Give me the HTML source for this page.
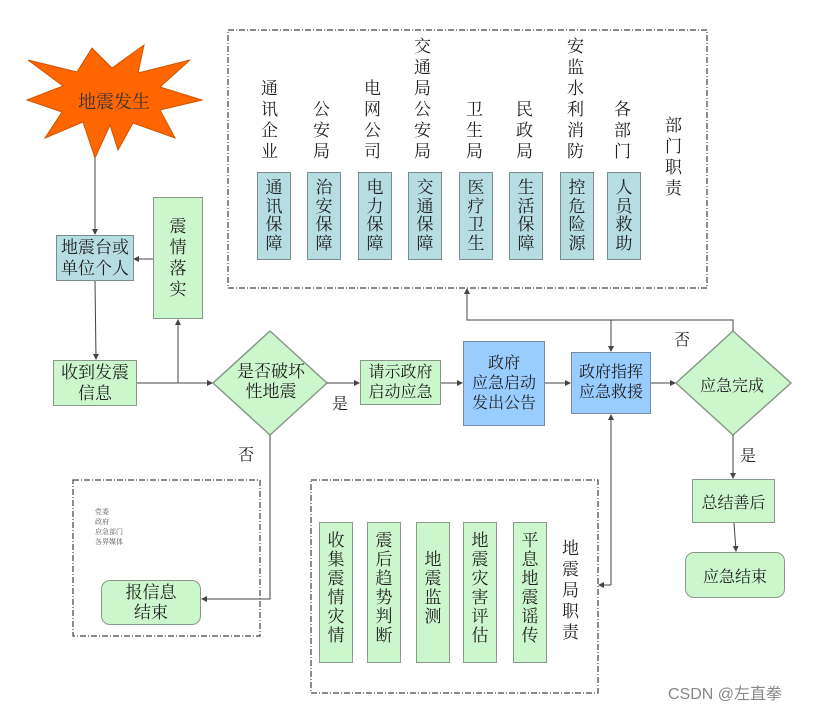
<!DOCTYPE html>
<html><head><meta charset="utf-8"><style>
body{margin:0;background:#fff;}
#c{position:relative;width:815px;height:710px;overflow:hidden;font-family:"Liberation Serif","Noto Serif CJK SC",serif;color:#222;}
.a{position:absolute;}
.box{position:absolute;box-sizing:border-box;display:flex;align-items:center;justify-content:center;text-align:center;}
.g{background:#ccf7cc;border:1.5px solid #8a9a8a;}
.b{background:#b6dde2;border:1.5px solid #7b8c8e;}
.bb{background:#99ccff;border:1.5px solid #7a8aa0;}
.vb{flex-direction:column;justify-content:flex-start;padding-top:6px;font-size:17px;line-height:18.5px;}
.lab{font-size:17px;line-height:21px;}
</style></head><body><div id="c">
<svg class="a" style="left:0;top:0" width="815" height="710">
<defs><marker id="ar" markerWidth="6" markerHeight="6" refX="5" refY="3" orient="auto"><path d="M0,0L6,3L0,6z" fill="#444"/></marker></defs>
<g fill="none" stroke="#444" stroke-width="1.2" stroke-dasharray="6,2,1,2">
<rect x="228" y="30" width="479" height="258"/>
<rect x="311" y="480" width="287" height="213"/>
<rect x="73" y="480" width="187" height="156"/>
</g>
<polygon points="95,158 83,122 45,138 62,112 27,100 63,86 28,60 77,72 92,48 112,68 144,45 138,73 190,60 160,87 202,100 160,110 175,138 133,123 118,150 110,125" fill="#ff6600" stroke="#cc5500"/>
<polygon points="270,331 327,383 270,435 213,383" fill="#ccf7cc" stroke="#8a9a8a" stroke-width="1.5"/>
<polygon points="733,331 791,383 733,435 676,383" fill="#ccf7cc" stroke="#8a9a8a" stroke-width="1.5"/>
<g stroke="#444" stroke-width="1" fill="none">
<line x1="95" y1="158" x2="95" y2="234" marker-end="url(#ar)"/>
<line x1="95" y1="281" x2="96" y2="359" marker-end="url(#ar)"/>
<line x1="153" y1="259" x2="134" y2="259" marker-end="url(#ar)"/>
<line x1="137" y1="383" x2="212" y2="383" marker-end="url(#ar)"/>
<line x1="178" y1="383" x2="178" y2="320" marker-end="url(#ar)"/>
<line x1="327" y1="383" x2="359" y2="383" marker-end="url(#ar)"/>
<polyline points="270,435 270,599 202,599" marker-end="url(#ar)"/>
<line x1="441" y1="383" x2="462" y2="383" marker-end="url(#ar)"/>
<line x1="545" y1="383" x2="570" y2="383" marker-end="url(#ar)"/>
<line x1="651" y1="383" x2="675" y2="383" marker-end="url(#ar)"/>
<polyline points="733,331 733,320 467,320 467,289" marker-end="url(#ar)"/>
<line x1="611" y1="320" x2="611" y2="351" marker-end="url(#ar)"/>
<line x1="733" y1="435" x2="733" y2="478" marker-end="url(#ar)"/>
<line x1="734" y1="523" x2="736" y2="551" marker-end="url(#ar)"/>
<polyline points="611,585 611,415" marker-end="url(#ar)"/>
<line x1="611" y1="585" x2="599" y2="585" marker-end="url(#ar)"/>
</g>
</svg>
<div class="a" style="left:78px;top:88px;font-size:18px;color:#333">地震发生</div>
<div class="box b" style="left:56px;top:235px;width:78px;height:46px;font-size:17px;line-height:21px">地震台或<br>单位个人</div>
<div class="box g vb" style="left:153px;top:197px;width:50px;height:122px;padding-top:18px;line-height:21px">震<br>情<br>落<br>实</div>
<div class="box g" style="left:53px;top:360px;width:84px;height:46px;font-size:17px;line-height:21px">收到发震<br>信息</div>
<div class="a" style="left:232px;top:362px;width:78px;text-align:center;font-size:17px;line-height:20px">是否破坏<br>性地震</div>
<div class="a" style="left:332px;top:391px;font-size:16px">是</div>
<div class="a" style="left:238px;top:442px;font-size:16px">否</div>
<div class="box g" style="left:360px;top:360px;width:81px;height:45px;font-size:16px;line-height:20px">请示政府<br>启动应急</div>
<div class="box bb" style="left:463px;top:341px;width:82px;height:85px;font-size:16px;line-height:20px">政府<br>应急启动<br>发出公告</div>
<div class="box bb" style="left:571px;top:352px;width:80px;height:62px;font-size:16px;line-height:20px">政府指挥<br>应急救援</div>
<div class="a" style="left:700px;top:373px;font-size:16px">应急完成</div>
<div class="a" style="left:674px;top:327px;font-size:16px">否</div>
<div class="a" style="left:740px;top:443px;font-size:16px">是</div>
<div class="box g" style="left:692px;top:479px;width:83px;height:44px;font-size:16px">总结善后</div>
<div class="box g" style="left:685px;top:552px;width:100px;height:46px;border-radius:9px;font-size:16px">应急结束</div>
<div class="a" style="left:95px;top:507px;font-size:7px;line-height:10px;color:#555">党委<br>政府<br>应急部门<br>各界媒体</div>
<div class="box g" style="left:101px;top:580px;width:100px;height:45px;border-radius:9px;font-size:17px;line-height:20px">报信息<br>结束</div>
<div class="a lab" style="left:261px;top:78px;width:20px">通<br>讯<br>企<br>业</div>
<div class="a lab" style="left:313px;top:99px;width:20px">公<br>安<br>局</div>
<div class="a lab" style="left:364px;top:78px;width:20px">电<br>网<br>公<br>司</div>
<div class="a lab" style="left:414px;top:36px;width:20px">交<br>通<br>局<br>公<br>安<br>局</div>
<div class="a lab" style="left:466px;top:99px;width:20px">卫<br>生<br>局</div>
<div class="a lab" style="left:516px;top:99px;width:20px">民<br>政<br>局</div>
<div class="a lab" style="left:567px;top:36px;width:20px">安<br>监<br>水<br>利<br>消<br>防</div>
<div class="a lab" style="left:614px;top:99px;width:20px">各<br>部<br>门</div>
<div class="a lab" style="left:665px;top:115px;width:20px">部<br>门<br>职<br>责</div>
<div class="box b vb" style="left:257px;top:172px;width:34px;height:88px">通<br>讯<br>保<br>障</div>
<div class="box b vb" style="left:307px;top:172px;width:34px;height:88px">治<br>安<br>保<br>障</div>
<div class="box b vb" style="left:358px;top:172px;width:34px;height:88px">电<br>力<br>保<br>障</div>
<div class="box b vb" style="left:408px;top:172px;width:34px;height:88px">交<br>通<br>保<br>障</div>
<div class="box b vb" style="left:459px;top:172px;width:34px;height:88px">医<br>疗<br>卫<br>生</div>
<div class="box b vb" style="left:509px;top:172px;width:34px;height:88px">生<br>活<br>保<br>障</div>
<div class="box b vb" style="left:560px;top:172px;width:34px;height:88px">控<br>危<br>险<br>源</div>
<div class="box b vb" style="left:607px;top:172px;width:34px;height:88px">人<br>员<br>救<br>助</div>
<div class="box g vb" style="left:319px;top:522px;width:34px;height:141px;padding-top:8px;line-height:19px">收<br>集<br>震<br>情<br>灾<br>情</div>
<div class="box g vb" style="left:367px;top:522px;width:34px;height:141px;padding-top:8px;line-height:19px">震<br>后<br>趋<br>势<br>判<br>断</div>
<div class="box g vb" style="left:416px;top:522px;width:34px;height:141px;padding-top:27px;line-height:19px">地<br>震<br>监<br>测</div>
<div class="box g vb" style="left:463px;top:522px;width:34px;height:141px;padding-top:8px;line-height:19px">地<br>震<br>灾<br>害<br>评<br>估</div>
<div class="box g vb" style="left:513px;top:522px;width:34px;height:141px;padding-top:8px;line-height:19px">平<br>息<br>地<br>震<br>谣<br>传</div>
<div class="a lab" style="left:562px;top:538px;width:20px">地<br>震<br>局<br>职<br>责</div>
<div class="a" style="left:668px;top:680px;font-family:'Liberation Sans','Noto Sans CJK SC',sans-serif;font-size:16px;color:#888">CSDN @左直拳</div>
</div></body></html>
